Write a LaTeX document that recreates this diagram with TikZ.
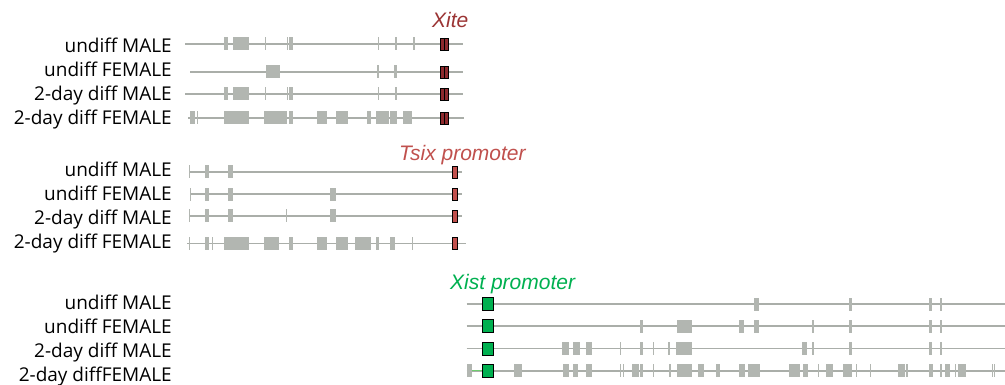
\documentclass[tikz,border=0pt]{standalone}
\usepackage{fontspec}
\setmainfont{Open Sans}
\newfontfamily\genefont{Liberation Sans}
\usetikzlibrary{positioning}

\definecolor{trackgray}{RGB}{170,174,169}
\definecolor{exongray}{RGB}{178,182,177}
\definecolor{xitered}{RGB}{142,42,46}
\definecolor{xitetext}{RGB}{155,52,52}
\definecolor{tsixred}{RGB}{192,80,77}
\definecolor{xistgreen}{RGB}{0,176,80}
\definecolor{lightgreen}{RGB}{110,205,110}

\tikzset{
  track/.style={draw=trackgray, line width=1.9pt},
  exon/.style={fill=exongray},
  rowlbl/.style={anchor=base east, inner sep=0pt, font=\fontsize{19}{21}\selectfont},
  genelbl/.style={anchor=base west, inner sep=0pt, font=\genefont\itshape\fontsize{21}{23}\selectfont},
  mark box/.style={draw=black, line width=0.9pt}
}

% one row of exons: #1 = y of the track, #2 = list of x1/x2
\newcommand{\exons}[2]{%
  \foreach \a/\b in {#2} \fill[exon] (\a,#1-6.5) rectangle (\b,#1+6.5);}

\begin{document}
\begin{tikzpicture}[x=1pt, y=-1pt]
    \useasboundingbox (0,0) rectangle (1005,385);
    \clip (0,0) rectangle (1005,385);

    % row labels
    \foreach \t [count=\i] in {undiff MALE, undiff FEMALE, 2-day diff MALE, 2-day diff FEMALE} {
      \node[rowlbl] (xl\i) at (172, 52.3+24*\i-24) {\t};
      \node[rowlbl] (tl\i) at (172, 176.5+24*\i-24) {\t};
    }
    \foreach \t [count=\i] in {undiff MALE, undiff FEMALE, 2-day diff MALE, 2-day diffFEMALE}
      \node[rowlbl] (sl\i) at (172, 309.5+24*\i-24) {\t};

    % gene names
    \node[genelbl, text=xitetext] (xite) at (432,28) {Xite};
    \node[genelbl, text=tsixred] (tsix) at (399,161) {Tsix promoter};
    \node[genelbl, text=xistgreen] (xist) at (450,289) {Xist promoter};

    %%%% Xite
    \draw[track] (185,44) -- (463,44);
    \draw[track] (190,72) -- (463,72);
    \draw[track] (185,94) -- (463,94);
    \draw[track] (188,118) -- (464,118);
    \exons{44}{224/227.7, 233/248.7, 265/266.3, 287/288, 289/292.7, 377.5/379, 395/397, 413.3/414.7}
    \exons{72}{266/280, 377.3/378.7, 394/397}
    \exons{94}{224/227.7, 233/248.7, 265/266.3, 287/288, 289/292.7, 377.5/379, 395/397}
    \exons{118}{190/195, 197/198, 224/248.7, 264.3/285.7, 286.3/287.3, 289/292.7, 317/327, 336/348,
      367/371, 376/388.7, 390/396.7, 402.7/412}
    \foreach \y in {44,72,94,118} {
      \filldraw[mark box, fill=xitered] (440,\y-6) rectangle (448,\y+6);
      \draw[line width=0.9pt] (444,\y-6) -- (444,\y+6);
    }

    %%%% Tsix
    \draw[track] (189,172) -- (462,172);
    \draw[track] (190,194.3) -- (462,194.3);
    \draw[track] (189,216) -- (462,216);
    \draw[track] (187,243.5) -- (466,243.5);
    \exons{172}{188.5/189.5, 205/209, 228/233}
    \exons{194.3}{189.5/190.5, 205/209, 228/233, 330/336}
    \exons{216}{188.5/189.5, 205/209, 228/233, 285.7/286.7, 330/336}
    \exons{243.5}{188.5/189.5, 205/209, 212/213, 224/248.7, 264.3/279, 289/293, 317/327, 336/348,
      355/370.7, 376/379, 390/395, 411.8/412.8}
    \foreach \y in {172,194.3,216,243.5}
      \filldraw[mark box, fill=tsixred] (452,\y-6) rectangle (457.3,\y+6);

    %%%% Xist
    \foreach \y in {304,326.3,348.5,370.7}
      \draw[track] (466.7,\y) -- (1005,\y);
    \draw[lightgreen, line width=1pt] (471.7,370.7) -- (482.7,370.7);
    \exons{304}{754/758.7, 849/851.7, 929/932, 940/941.7}
    \exons{326.3}{640/642.7, 677/691.7, 739/744, 754/758.7, 812.3/813.7, 849/851.7, 929/932, 940/941.7}
    \exons{348.5}{562/569, 573/580, 586/591.7, 619.7/621, 640/642.7, 653/654.3, 668.3/670, 676/691.7,
      802/807, 811.7/813.7, 849/851.7, 929/932, 940/941.7}
    \exons{370.7}{466.7/471.7, 514/522, 563/569, 573/578, 586/591.7, 619.5/620.5, 623.3/624.3,
      632/639, 640/642.7, 652.8/653.8, 668.7/670.7, 677/691.7, 698/703.7, 716/719.7, 739/745,
      748/760, 789/800, 803/808, 817.8/818.8, 826/833, 843/852, 856.2/857.2, 870.2/871.2,
      898/905, 906/907.7, 929/933, 940/941.7, 945/950, 955.2/956.2, 958/966, 991.7/993, 993.7/995}
    \foreach \y in {304,326.3,348.5,370.7}
      \filldraw[mark box, fill=xistgreen] (482.7,\y-6.5) rectangle (493,\y+6.5);
\end{tikzpicture}
\end{document}
